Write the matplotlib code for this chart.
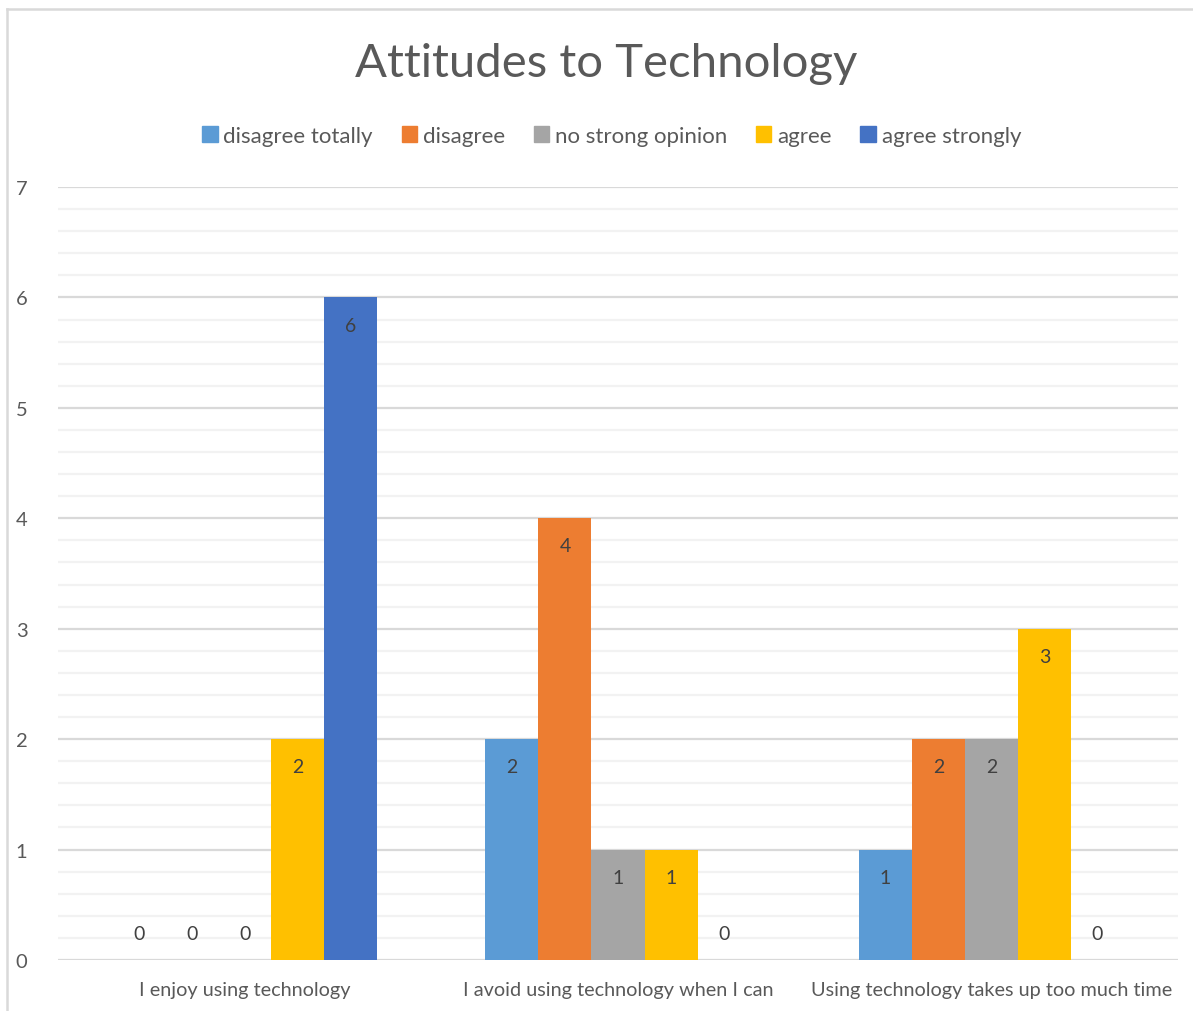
import numpy as np
import matplotlib.pyplot as plt
from matplotlib.ticker import MultipleLocator
from matplotlib.lines import Line2D

categories = ["I enjoy using technology",
              "I avoid using technology when I can",
              "Using technology takes up too much time"]
series = ["disagree totally", "disagree", "no strong opinion", "agree", "agree strongly"]
values = [
    [0, 2, 1],   # disagree totally
    [0, 4, 2],   # disagree
    [0, 1, 2],   # no strong opinion
    [2, 1, 3],   # agree
    [6, 0, 0],   # agree strongly
]
colors = ["#5B9BD5", "#ED7D31", "#A5A5A5", "#FFC000", "#4472C4"]

TXT = "#595959"
plt.rcParams["font.family"] = ["Lato", "DejaVu Sans"]

fig = plt.figure(figsize=(11.93, 10.12), dpi=100)
ax = fig.add_axes([58 / 1193, 51 / 1012, 1120 / 1193, 773 / 1012])

x = np.arange(len(categories))
w = 0.142
for i, (name, vals, c) in enumerate(zip(series, values, colors)):
    pos = x + (i - 2) * w
    ax.bar(pos, vals, width=w, color=c, label=name, zorder=3)
    for p, v in zip(pos, vals):
        yy = v - 0.25 if v > 0 else 0.24
        ax.text(p, yy, str(v), ha="center", va="center", fontsize=14,
                color="#404040", zorder=4)

ax.set_xlim(-0.5, len(categories) - 0.5)
ax.set_ylim(0, 7)
ax.yaxis.set_major_locator(MultipleLocator(1))
ax.yaxis.set_minor_locator(MultipleLocator(0.2))
ax.grid(True, which="major", axis="y", color="#D9D9D9", lw=1.6, zorder=1)
ax.grid(True, which="minor", axis="y", color="#F2F2F2", lw=1.6, zorder=0)
for s in ax.spines.values():
    s.set_visible(False)
ax.set_xticks(x)
ax.set_xticklabels(categories, fontsize=14.3, color=TXT)
ax.tick_params(axis="both", which="both", length=0, colors=TXT)
ax.tick_params(axis="y", labelsize=14.5, pad=22)
ax.tick_params(axis="x", pad=15)

fig.text(0.5084, 1 - 64 / 1012, "Attitudes to Technology", ha="center", va="center",
         fontsize=34, color=TXT)

handles = [plt.Rectangle((0, 0), 1, 1, color=c) for c in colors]
fig.legend(handles, series, loc="center", bbox_to_anchor=(0.5126, 1 - 137 / 1012),
           ncol=5, frameon=False, fontsize=16, labelcolor=TXT,
           handlelength=0.7, handleheight=0.7, handletextpad=0.25, columnspacing=1.3)

# chart border (left and top edges visible)
fig.add_artist(Line2D([7.5 / 1193, 7.5 / 1193], [0, 1 - 9.5 / 1012],
                      transform=fig.transFigure, color="#D9D9D9", lw=1.8))
fig.add_artist(Line2D([7.5 / 1193, 1], [1 - 9.5 / 1012, 1 - 9.5 / 1012],
                      transform=fig.transFigure, color="#D9D9D9", lw=1.8))

fig.savefig("out.png", dpi=100, facecolor="white")
